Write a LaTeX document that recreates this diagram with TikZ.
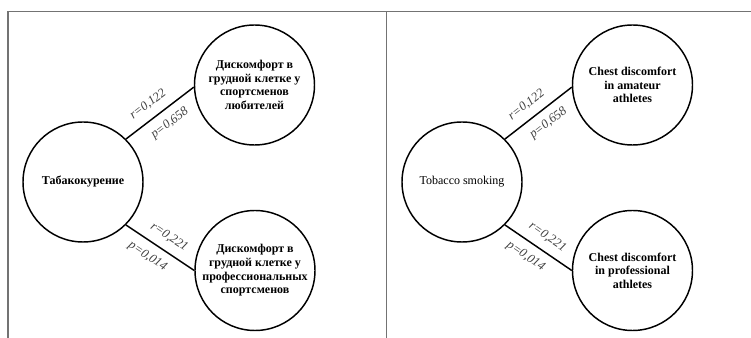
\documentclass[tikz,border=0pt]{standalone}
\usepackage{fontspec}
\setmainfont{Liberation Serif}
\begin{document}
\begin{tikzpicture}[x=0.75pt,y=-0.75pt,
  circ/.style={draw, circle, line width=1.1pt, minimum size=90pt, inner sep=0pt, align=center, font=\fontsize{9}{10.2}\selectfont},
  circb/.style={circ, font=\fontsize{9}{10.2}\selectfont\bfseries},
  conn/.style={line width=1.1pt},
  lbl/.style={sloped, inner sep=0.5pt, text=black!75, font=\fontsize{9.5}{11}\selectfont\itshape},
  frame/.style={draw=black!55, line width=1pt}]
\fill[white] (0,0) rectangle (751,338);
\useasboundingbox (0,0) rectangle (751,338);
% frame
\coordinate (tl) at (8,11.5);
\coordinate (tr) at (751,11.5);
\coordinate (bl) at (8,338);
\coordinate (dt) at (386.5,11.5);
\coordinate (db) at (386.5,338);
\draw[frame] (bl) -- (tl) -- (tr);
\draw[frame] (dt) -- (db);
% left panel
\node[circb] (L) at (83,182) {Табакокурение};
\node[circb] (T) at (254.5,85) {Дискомфорт в\\грудной клетке у\\спортсменов\\любителей};
\node[circb] (B) at (255,270.5) {Дискомфорт в\\грудной клетке у\\профессиональных\\спортсменов};
\draw[conn] (L.45) -- node[lbl, pos=0.45, above=5.5pt] {r=0,122} node[lbl, pos=0.52, below=5.5pt] {p=0,658} (T.182);
\draw[conn] (L.-45) -- node[lbl, pos=0.52, above=5.5pt] {r=0,221} node[lbl, pos=0.43, below=5.5pt] {p=0,014} (B.180);
% right panel
\node[circ] (L2) at (462,182) {Tobacco smoking};
\node[circb] (T2) at (632.5,85) {Chest discomfort\\in amateur\\athletes};
\node[circb] (B2) at (632.5,270.5) {Chest discomfort\\in professional\\athletes};
\draw[conn] (L2.45) -- node[lbl, pos=0.45, above=5.5pt] {r=0,122} node[lbl, pos=0.52, below=5.5pt] {p=0,658} (T2.182);
\draw[conn] (L2.-45) -- node[lbl, pos=0.52, above=5.5pt] {r=0,221} node[lbl, pos=0.43, below=5.5pt] {p=0,014} (B2.180);
\end{tikzpicture}
\end{document}
